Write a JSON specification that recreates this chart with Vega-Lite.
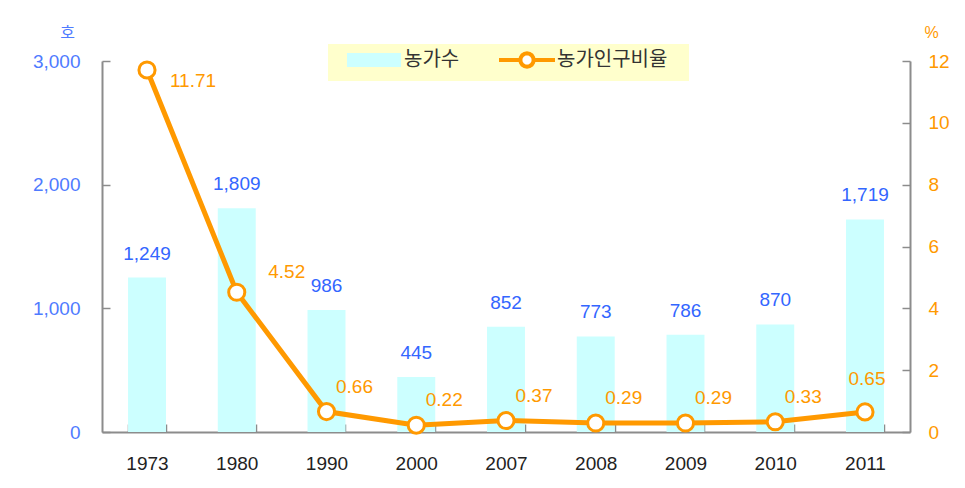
{
  "$schema": "https://vega.github.io/schema/vega-lite/v6.json",
  "autosize": {"type": "none"},
  "width": 808,
  "height": 371,
  "padding": {"left": 102, "top": 61, "right": 55, "bottom": 56},
  "background": "white",
  "config": {
    "view": {"stroke": null},
    "font": "Liberation Sans",
    "axis": {"grid": false, "domainColor": "#8c8c8c", "domainWidth": 2, "tickColor": "#8c8c8c", "tickWidth": 1.5, "labelFont": "Liberation Sans", "labelFontSize": 19},
    "legend": {"fillColor": "#ffffcc", "padding": 6, "labelFont": "Noto Sans CJK KR", "labelFontSize": 20, "labelColor": "#333333", "direction": "horizontal", "orient": "none", "titleOrient": "right", "titleColor": "#ffffcc", "titleFontSize": 10, "titleFont": "Liberation Sans", "titleBaseline": "middle"}
  },
  "data": {
    "values": [
      {"year": "1973", "households": 1249, "ratio": 11.71},
      {"year": "1980", "households": 1809, "ratio": 4.52},
      {"year": "1990", "households": 986, "ratio": 0.66},
      {"year": "2000", "households": 445, "ratio": 0.22},
      {"year": "2007", "households": 852, "ratio": 0.37},
      {"year": "2008", "households": 773, "ratio": 0.29},
      {"year": "2009", "households": 786, "ratio": 0.29},
      {"year": "2010", "households": 870, "ratio": 0.33},
      {"year": "2011", "households": 1719, "ratio": 0.65}
    ]
  },
  "encoding": {
    "x": {
      "field": "year", "type": "ordinal", "sort": null,
      "scale": {"paddingInner": 0.577, "paddingOuter": 0.29},
      "axis": {"title": null, "labelAngle": 0, "labelColor": "#222222", "tickBand": "extent", "tickSize": -8, "labelPadding": 30, "labelFontSize": 19}
    }
  },
  "layer": [
    {
      "encoding": {
        "y": {
          "field": "households", "type": "quantitative",
          "scale": {"domain": [0, 3000], "nice": false},
          "axis": {"orient": "left", "values": [0, 1000, 2000, 3000], "format": ",.0f", "labelColor": "#4f7bff", "tickSize": -8, "labelPadding": 30, "title": "호", "titleAngle": 0, "titleColor": "#4f7bff", "titleFont": "Noto Sans CJK KR", "titleFontWeight": "normal", "titleFontSize": 16, "titleX": -35, "titleY": -29, "titleAlign": "center", "titleBaseline": "middle"}
        }
      },
      "layer": [
        {
          "mark": {"type": "bar"},
          "encoding": {
            "fill": {"datum": "농가수", "type": "nominal",
              "scale": {"domain": ["농가수"], "range": ["#ccffff"]},
              "legend": {
                "title": "x", "titlePadding": 2, "legendX": 226, "legendY": -17,
                "symbolType": "M-3.86,-1H3.86V1H-3.86Z", "symbolSize": 196,
                "symbolFillColor": "#ccffff", "symbolStrokeColor": "transparent", "symbolStrokeWidth": 4,
                "symbolOffset": 30, "labelOffset": 20
              }
            }
          }
        },
        {
          "mark": {"type": "text", "baseline": "middle", "dy": -24, "fontSize": 19, "color": "#3366ff", "font": "Liberation Sans"},
          "encoding": {"text": {"field": "households", "type": "quantitative", "format": ","}}
        }
      ]
    },
    {
      "encoding": {
        "y": {
          "field": "ratio", "type": "quantitative",
          "scale": {"domain": [0, 12], "nice": false},
          "axis": {"orient": "right", "values": [0, 2, 4, 6, 8, 10, 12], "labelColor": "#ff9900", "tickSize": -8, "labelPadding": 26, "title": "%", "titleAngle": 0, "titleColor": "#ff9900", "titleFontWeight": "normal", "titleFontSize": 16, "titleX": 21, "titleY": -29, "titleAlign": "center", "titleBaseline": "middle"}
        }
      },
      "layer": [
        {
          "mark": {"type": "line", "strokeWidth": 5},
          "encoding": {
            "stroke": {"datum": "농가인구비율", "type": "nominal",
              "scale": {"domain": ["농가인구비율"], "range": ["#ff9900"]},
              "legend": {
                "title": "x", "titlePadding": 10, "legendX": 370, "legendY": -17,
                "symbolType": "M-4,0H-0.95M0.95,0H4M0.95,0L0.8777,0.3636L0.6718,0.6718L0.3636,0.8777L0,0.95L-0.3636,0.8777L-0.6718,0.6718L-0.8777,0.3636L-0.95,0L-0.8777,-0.3636L-0.6718,-0.6718L-0.3636,-0.8777L0,-0.95L0.3636,-0.8777L0.6718,-0.6718L0.8777,-0.3636Z", "symbolSize": 196,
                "symbolFillColor": "#ffffff", "symbolStrokeColor": "#ff9900", "symbolStrokeWidth": 4,
                "symbolOffset": 39, "labelOffset": 20
              }
            }
          }
        },
        {
          "mark": {"type": "point", "shape": "circle", "filled": true, "fill": "white", "stroke": "#ff9900", "strokeWidth": 3, "size": 260, "opacity": 1}
        },
        {
          "transform": [{"filter": "datum.year === '1973'"}],
          "mark": {"type": "text", "dx": 46, "dy": 11, "baseline": "middle", "fontSize": 19, "color": "#ff9900"},
          "encoding": {"text": {"field": "ratio", "type": "quantitative", "format": ".2f"}}
        },
        {
          "transform": [{"filter": "datum.year === '1980'"}],
          "mark": {"type": "text", "dx": 50, "dy": -20, "baseline": "middle", "fontSize": 19, "color": "#ff9900"},
          "encoding": {"text": {"field": "ratio", "type": "quantitative", "format": ".2f"}}
        },
        {
          "transform": [{"filter": "datum.year === '2011'"}],
          "mark": {"type": "text", "dx": 2, "dy": -33, "baseline": "middle", "fontSize": 19, "color": "#ff9900"},
          "encoding": {"text": {"field": "ratio", "type": "quantitative", "format": ".2f"}}
        },
        {
          "transform": [{"filter": "datum.year !== '1973' && datum.year !== '1980' && datum.year !== '2011'"}],
          "mark": {"type": "text", "dx": 28, "dy": -25, "baseline": "middle", "fontSize": 19, "color": "#ff9900"},
          "encoding": {"text": {"field": "ratio", "type": "quantitative", "format": ".2f"}}
        }
      ]
    }
  ],
  "resolve": {"scale": {"y": "independent"}}
}
